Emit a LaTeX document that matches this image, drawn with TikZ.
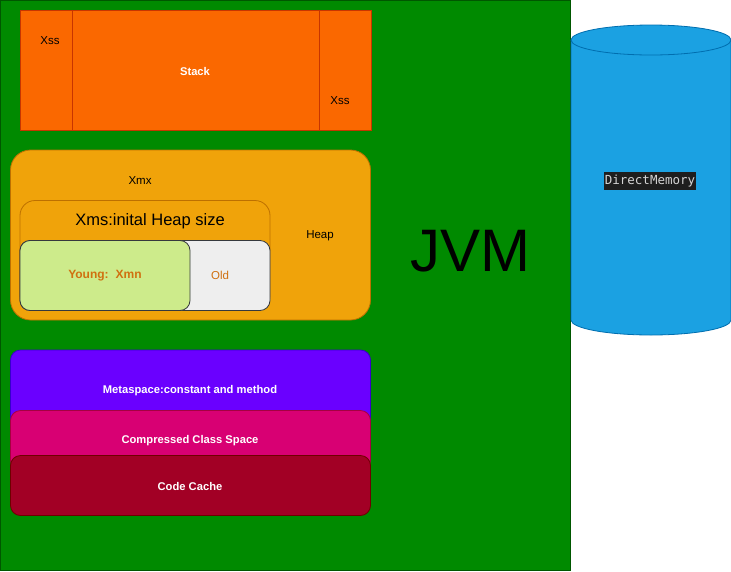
\documentclass[tikz,border=0pt]{standalone}
\usepackage{fontspec}
\setmainfont{Liberation Sans}
\setmonofont{DejaVu Sans Mono}
\usetikzlibrary{positioning}
\definecolor{jvmgreen}{HTML}{008A00}
\definecolor{jvmline}{HTML}{005700}
\definecolor{stackfill}{HTML}{FA6800}
\definecolor{stackline}{HTML}{C73500}
\definecolor{heapfill}{HTML}{F0A30A}
\definecolor{heapline}{HTML}{BD7000}
\definecolor{youngfill}{HTML}{CDEB8B}
\definecolor{oldfill}{HTML}{EEEEEE}
\definecolor{genline}{HTML}{36393D}
\definecolor{gentext}{HTML}{D07010}
\definecolor{metafill}{HTML}{6A00FF}
\definecolor{metaline}{HTML}{3700CC}
\definecolor{ccsfill}{HTML}{D80073}
\definecolor{ccsline}{HTML}{A50040}
\definecolor{cachefill}{HTML}{A20025}
\definecolor{cacheline}{HTML}{6F0000}
\definecolor{dmfill}{HTML}{1BA1E2}
\definecolor{dmline}{HTML}{006EAF}
\definecolor{codebg}{HTML}{1E1E1E}
\definecolor{codefg}{HTML}{D4D4D4}
\begin{document}
\begin{tikzpicture}[x=1pt,y=-1pt,
    area/.style={draw,line width=0.8pt,inner sep=0pt,outer sep=0pt},
    lbl/.style={font=\fontsize{11.5}{13}\selectfont,text=black},
    whitelbl/.style={font=\fontsize{11.2}{13}\selectfont\bfseries,text=white}]
    \useasboundingbox (0,0) rectangle (731,571);
    % JVM frame
    \node[area,fill=jvmgreen,draw=jvmline,minimum width=570pt,minimum height=570pt,anchor=north west] (jvm) at (0,0.5) {};
    \node[font=\fontsize{60}{70}\selectfont] (jvmlabel) at (470,251) {JVM};
    % stack
    \node[area,fill=stackfill,draw=stackline,minimum width=351pt,minimum height=120pt] (stack) at (195.5,70) {};
    \draw[stackline,line width=0.8pt] ([xshift=52pt]stack.north west) -- ([xshift=52pt]stack.south west);
    \draw[stackline,line width=0.8pt] ([xshift=-52pt]stack.north east) -- ([xshift=-52pt]stack.south east);
    \node[whitelbl] (stacklabel) at (195,71) {Stack};
    \node[lbl] (xssleft) at (50,41) {Xss};
    \node[lbl] (xssright) at (340,101) {Xss};
    % heap
    \node[area,fill=heapfill,draw=heapline,rounded corners=20pt,minimum width=360pt,minimum height=170pt] (heap) at (190.5,235) {};
    \node[lbl] (xmx) at (140,181) {Xmx};
    \node[lbl] (heaplabel) at (320,236) {Heap};
    \node[area,fill=heapfill,draw=heapline,rounded corners=15pt,minimum width=250pt,minimum height=110pt] (xms) at (145,255.5) {};
    \node[font=\fontsize{16.5}{19}\selectfont] (xmslabel) at (150,221) {Xms:inital Heap size};
    \node[area,fill=oldfill,draw=genline,rounded corners=10pt,minimum width=250pt,minimum height=70pt] (old) at (145,275.5) {};
    \node[area,fill=youngfill,draw=genline,rounded corners=10pt,minimum width=170pt,minimum height=70pt] (young) at (105,275.5) {};
    \node[font=\fontsize{12}{14}\selectfont\bfseries,text=gentext] (younglabel) at (young) {Young:\hspace{7pt}Xmn};
    \node[font=\fontsize{11.5}{13}\selectfont,text=gentext] (oldlabel) at (220,275.5) {Old};
    % non-heap
    \node[area,fill=metafill,draw=metaline,rounded corners=10pt,minimum width=360pt,minimum height=80pt] (meta) at (190.5,390) {};
    \node[whitelbl] (metalabel) at (190,391) {Metaspace:constant and method};
    \node[area,fill=ccsfill,draw=ccsline,rounded corners=10pt,minimum width=360pt,minimum height=60pt] (ccs) at (190.5,440.5) {};
    \node[whitelbl] (ccslabel) at (190,441) {Compressed Class Space};
    \node[area,fill=cachefill,draw=cacheline,rounded corners=10pt,minimum width=360pt,minimum height=60pt] (cache) at (190.5,485.5) {};
    \node[whitelbl] (cachelabel) at (190,486) {Code Cache};
    % direct memory
    \draw[dmline,fill=dmfill,line width=0.8pt] (571,40) -- (571,320) arc[start angle=180,end angle=360,x radius=80,y radius=-15] -- (731,40) arc[start angle=0,end angle=180,x radius=80,y radius=-15] -- cycle;
    \draw[dmline,line width=0.8pt] (571,40) arc[start angle=180,end angle=360,x radius=80,y radius=-15];
    \node[fill=codebg,text=codefg,font=\ttfamily\fontsize{12.5}{14}\selectfont,inner xsep=1pt,inner ysep=2.5pt] (direct) at (650,181) {DirectMemory};
\end{tikzpicture}
\end{document}
